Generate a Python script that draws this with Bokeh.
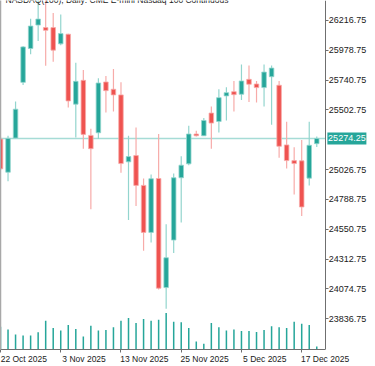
from bokeh.plotting import figure
from bokeh.models import (Range1d, LinearAxis, FixedTicker, NumeralTickFormatter,
                          ColumnDataSource)
from bokeh.core.properties import value
from bokeh.embed import file_html
from bokeh.resources import INLINE

# ---------------- data ----------------
dates = ["2025-10-22", "2025-10-23", "2025-10-24", "2025-10-27", "2025-10-28", "2025-10-29",
         "2025-10-30", "2025-10-31", "2025-11-03", "2025-11-04", "2025-11-05", "2025-11-06",
         "2025-11-07", "2025-11-10", "2025-11-11", "2025-11-12", "2025-11-13", "2025-11-14",
         "2025-11-17", "2025-11-18", "2025-11-19", "2025-11-20", "2025-11-21", "2025-11-24",
         "2025-11-25", "2025-11-26", "2025-11-27", "2025-11-28", "2025-12-01", "2025-12-02",
         "2025-12-03", "2025-12-04", "2025-12-05", "2025-12-08", "2025-12-09", "2025-12-10",
         "2025-12-11", "2025-12-12", "2025-12-15", "2025-12-16", "2025-12-17", "2025-12-18",
         "2025-12-19"]

opens = [25270, 25005, 25278, 25722, 25992, 26179, 26159, 26159, 26029, 26106, 25548, 25738,
         25299, 25320, 25725, 25667, 25622, 25088, 25138, 24900, 24525, 24955, 24085, 24464,
         24961, 25072, 25310, 25296, 25477, 25410, 25614, 25648, 25627, 25746, 25709, 25680,
         25767, 25699, 25223, 25098, 25096, 24958, 25233]
highs = [25290, 25296, 25569, 26013, 26230, 26399, 26390, 26275, 26264, 26110, 25878, 25820,
         25352, 25754, 25773, 25828, 25722, 25296, 25362, 24955, 24987, 25310, 24590, 24995,
         25132, 25376, 25336, 25437, 25529, 25667, 25683, 25733, 25865, 25857, 25733, 25865,
         25857, 25733, 25408, 25204, 25262, 25408, 25291]
lows = [25020, 24934, 25275, 25701, 25947, 26052, 25854, 25886, 26018, 25521, 25283, 25193,
        24709, 25270, 25481, 25489, 25001, 24625, 24736, 24379, 24445, 24069, 23916, 24360,
        24604, 25061, 25291, 25294, 25193, 25323, 25418, 25489, 25582, 25566, 25561, 25529,
        25384, 25120, 25035, 24828, 24656, 24900, 25207]
closes = [25032, 25275, 25508, 26005, 26171, 26227, 26137, 25979, 26111, 25574, 25730, 25307,
          25193, 25717, 25656, 25622, 25074, 25130, 24900, 24525, 24953, 24080, 24323, 24961,
          25061, 25310, 25296, 25418, 25397, 25600, 25640, 25624, 25733, 25707, 25680, 25804,
          25836, 25212, 25098, 25074, 24728, 25220, 25274.25]
volumes = [230000, 200000, 150000, 140000, 140000, 174000, 290000, 217000, 190000, 247000,
           207000, 130000, 240000, 190000, 197000, 224000, 290000, 317000, 267000, 307000,
           290000, 300000, 367000, 280000, 274000, 217000, 80000, 57000, 267000, 224000,
           190000, 200000, 187000, 187000, 177000, 197000, 234000, 224000, 217000, 280000,
           260000, 247000, 30000]

price_ticks = [23836.75, 24074.75, 24312.75, 24550.75, 24788.75, 25026.75,
               25502.75, 25740.75, 25978.75, 26216.75]
date_tick_index = [0, 8, 16, 24, 32, 40]
date_tick_labels = ["22 Oct 2025", "3 Nov 2025", "13 Nov 2025", "25 Nov 2025",
                    "5 Dec 2025", "17 Dec 2025"]
title_text = "NASDAQ(100), Daily:  CME E-mini Nasdaq 100 Continuous"

# ---------------- styling / layout ----------------
UP = "#26a69a"
DOWN = "#ef5350"
UP_WICK = "#93d5ce"
DOWN_WICK = "#f7aba9"
FONT = "Liberation Sans"
FS_Y = "9px"
FS_X = "8.5px"
W, H = 375, 366
BAR_PX = 7.5          # horizontal pixels per bar
CHART_PX = 323.5      # width of the candle area, left of the price scale
PRICE_LABEL_REACH = 41  # price labels end this many px right of the scale line

n = len(closes)
idx = list(range(n))
up = [c >= o for o, c in zip(opens, closes)]

src = ColumnDataSource(dict(
    x=idx, o=opens, h=highs, l=lows, c=closes, v=volumes,
    top=[max(o, c) for o, c in zip(opens, closes)],
    bot=[min(o, c) for o, c in zip(opens, closes)],
    fill=[UP if u else DOWN for u in up],
    wick=[UP_WICK if u else DOWN_WICK for u in up],
))

x_start = 0.0
x_scale_pos = x_start + CHART_PX / BAR_PX          # where the price scale line sits
x_end = x_start + (W - 1.5) / BAR_PX               # frame reaches the right edge
y_lo, y_hi = 23591, 26375

p = figure(width=W, height=H, output_backend="svg", toolbar_location=None,
           x_range=Range1d(x_start, x_end), y_range=Range1d(y_lo, y_hi),
           x_axis_location="below", y_axis_location=None,
           min_border_left=0, min_border_right=0, min_border_top=0, min_border_bottom=0)
p.outline_line_color = None
p.background_fill_color = "white"
p.border_fill_color = "white"
p.xgrid.visible = False
p.ygrid.visible = False

p.extra_y_ranges = {"vol": Range1d(0, 3510000)}

# volume bars
p.vbar(x="x", width=0.2, top="v", bottom=0, source=src, y_range_name="vol",
       fill_color=UP, line_color=None)

# current price line (stops at the price scale)
last = closes[-1]
p.segment(x0=[x_start], y0=[last], x1=[x_scale_pos], y1=[last],
          line_color="#a6dcd6", line_width=1.6)

# candles
p.segment(x0="x", y0="l", x1="x", y1="h", source=src, line_color="wick", line_width=1.2)
p.vbar(x="x", width=0.6, top="top", bottom="bot", source=src,
       fill_color="fill", line_color="wick", line_width=0.8)

# chart caption, cut by the top edge of the chart as in the terminal
p.text(x=[x_start], y=[y_hi], text=[title_text], x_offset=5, y_offset=-1,
       text_baseline="alphabetic", text_align="left", text_color="#222222",
       text_font=value(FONT), text_font_size=value(FS_X))

# white band behind the price scale so that nothing of the chart shows there
p.quad(left=[x_scale_pos], right=[x_end], top=[y_hi], bottom=[y_lo],
       fill_color="white", line_color=None)

# current price tag on the scale
tag_x = x_scale_pos + 21.5 / BAR_PX
p.rect(x=[tag_x], y=[last], width=39, height=12, width_units="screen", height_units="screen",
       fill_color=UP, line_color=None)
p.text(x=[tag_x], y=[last], text=[f"{last:.2f}"], text_align="center", text_baseline="middle",
       text_color="white", text_font=value(FONT), text_font_size=value(FS_Y))

# bottom date axis: labels start just right of each tick mark
lab_shift = 3.1
xa = p.xaxis[0]
xa.bounds = (x_start, x_scale_pos)
xa.ticker = FixedTicker(ticks=[i + lab_shift for i in date_tick_index], minor_ticks=date_tick_index)
xa.major_label_overrides = {i + lab_shift: t for i, t in zip(date_tick_index, date_tick_labels)}
xa.axis_line_color = "#6f6f6f"
xa.major_tick_line_color = None
xa.major_tick_out = 3
xa.major_tick_in = 0
xa.minor_tick_line_color = "#6f6f6f"
xa.minor_tick_out = 3
xa.minor_tick_in = 0
xa.major_label_standoff = 1
xa.major_label_text_font = FONT
xa.major_label_text_font_size = FS_X
xa.major_label_text_color = "#1a1a1a"

# left border line
la = LinearAxis(ticker=FixedTicker(ticks=[]), axis_line_color="#a8a8a8", axis_line_width=1.5,
                major_tick_line_color=None, minor_tick_line_color=None, major_tick_out=0,
                major_label_text_font_size="0px", major_label_standoff=0)
p.add_layout(la, "left")

# price scale: drawn at a fixed x inside the frame, labels to its right
ya = LinearAxis(fixed_location=x_scale_pos,
                ticker=FixedTicker(ticks=price_ticks),
                formatter=NumeralTickFormatter(format="0.00"))
ya.axis_line_color = "#6f6f6f"
ya.major_tick_line_color = "#6f6f6f"
ya.major_tick_out = 0
ya.major_tick_in = 3
ya.minor_tick_line_color = None
ya.major_label_standoff = -PRICE_LABEL_REACH
ya.major_label_text_font = FONT
ya.major_label_text_font_size = FS_Y
ya.major_label_text_color = "#1a1a1a"
p.add_layout(ya, "left")

open("out.html", "w").write(file_html(p, INLINE))
